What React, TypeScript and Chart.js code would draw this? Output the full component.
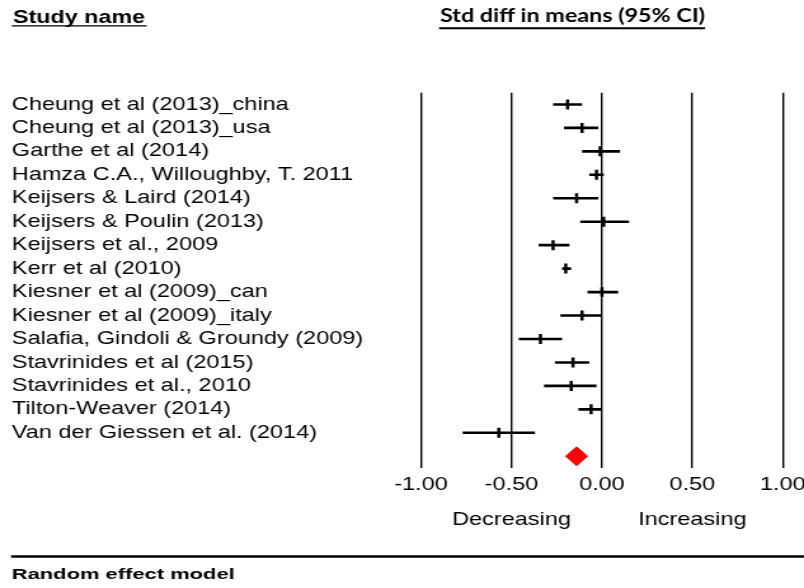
import React, { useEffect, useRef } from "react";
import { Chart, registerables } from "chart.js";

Chart.register(...registerables);

// ---------- data ----------
const STUDIES = [
  "Cheung et al (2013)_china",
  "Cheung et al (2013)_usa",
  "Garthe et al (2014)",
  "Hamza C.A., Willoughby, T. 2011",
  "Keijsers & Laird (2014)",
  "Keijsers & Poulin (2013)",
  "Keijsers et al., 2009",
  "Kerr et al (2010)",
  "Kiesner et al (2009)_can",
  "Kiesner et al (2009)_italy",
  "Salafia, Gindoli & Groundy (2009)",
  "Stavrinides et al (2015)",
  "Stavrinides et al., 2010",
  "Tilton-Weaver (2014)",
  "Van der Giessen et al. (2014)",
];
const EFFECT = [-0.19, -0.11, -0.01, -0.03, -0.14, 0.01, -0.27, -0.2, 0.0, -0.11, -0.34, -0.16, -0.17, -0.06, -0.57];
const LOWER = [-0.27, -0.21, -0.11, -0.07, -0.27, -0.12, -0.35, -0.22, -0.08, -0.23, -0.46, -0.26, -0.32, -0.13, -0.77];
const UPPER = [-0.11, -0.02, 0.1, 0.01, -0.02, 0.15, -0.18, -0.17, 0.09, 0.0, -0.22, -0.07, -0.03, 0.0, -0.37];
const POOLED = [-0.2, -0.14, -0.08]; // lower, estimate, upper
const X_TICKS = [-1, -0.5, 0, 0.5, 1];
const X_TICK_LABELS = ["-1.00", "-0.50", "0.00", "0.50", "1.00"];
const DIRECTION_LABELS = ["Decreasing", "Increasing"];
const DIRECTION_AT = [-0.5, 0.5];
const HEADER_LEFT = "Study name";
const HEADER_RIGHT = "Std diff in means (95% CI)";
const FOOTER = "Random effect model";

// ---------- layout / style ----------
const STRETCH = 1.27;
const DISPLAY_W = 804;
const DISPLAY_H = 588;
const CANVAS_W = Math.round(DISPLAY_W / STRETCH);
const CANVAS_H = DISPLAY_H;
const ARIAL = '"Liberation Sans", Arial, sans-serif';
const PAD_LEFT = 9.3;
const AREA_LEFT = 421 / STRETCH;
const AREA_RIGHT = 782.7 / STRETCH;
const AREA_TOP = 92.7;
const AREA_BOTTOM = 468;
const X_AXIS_H = 40;
const DIAMOND_HALF = 0.405;

function drawFitted(ctx: CanvasRenderingContext2D, text: string, x: number, y: number, font: string, width: number) {
  ctx.save();
  ctx.font = font;
  const w = ctx.measureText(text).width;
  ctx.translate(x, y);
  ctx.scale(width / w, 1);
  ctx.textAlign = "left";
  ctx.textBaseline = "alphabetic";
  ctx.fillText(text, 0, 0);
  ctx.restore();
}

const textPlugin = {
  id: "forestText",
  afterDraw(chart: any) {
    const ctx: CanvasRenderingContext2D = chart.ctx;
    const xs = chart.scales.x;
    ctx.save();
    ctx.fillStyle = "#000";
    ctx.strokeStyle = "#000";

    // headers
    drawFitted(ctx, HEADER_LEFT, 13 / STRETCH, 23.3, `bold 18.5px ${ARIAL}`, 132 / STRETCH);
    ctx.lineWidth = 1.4;
    ctx.beginPath();
    ctx.moveTo(11.7 / STRETCH, 25.9);
    ctx.lineTo(146.7 / STRETCH, 25.9);
    ctx.stroke();

    drawFitted(ctx, HEADER_RIGHT, 440 / STRETCH, 21.7, `bold 18.6px Lato, "Open Sans", sans-serif`, 265 / STRETCH);
    ctx.lineWidth = 2;
    ctx.beginPath();
    ctx.moveTo(439 / STRETCH, 28.3);
    ctx.lineTo(705 / STRETCH, 28.3);
    ctx.stroke();

    // direction labels
    ctx.font = `18.5px ${ARIAL}`;
    ctx.textAlign = "center";
    ctx.textBaseline = "alphabetic";
    DIRECTION_LABELS.forEach((t, i) => {
      ctx.fillText(t, xs.getPixelForValue(DIRECTION_AT[i]), 525);
    });

    // footer rule + label
    ctx.lineWidth = 2.4;
    ctx.beginPath();
    ctx.moveTo(11 / STRETCH, 556.5);
    ctx.lineTo(CANVAS_W, 556.5);
    ctx.stroke();
    drawFitted(ctx, FOOTER, 11.7 / STRETCH, 578.5, `bold 15.5px ${ARIAL}`, 223 / STRETCH);
    ctx.restore();
  },
};

export default function App() {
  const ref = useRef<HTMLCanvasElement | null>(null);

  useEffect(() => {
    if (!ref.current) return;
    const pooledRow = STUDIES.length;
    const ciSets = STUDIES.map((name, i) => ({
      label: name,
      data: [
        { x: LOWER[i], y: i },
        { x: UPPER[i], y: i },
      ],
      showLine: true,
      borderColor: "#000",
      borderWidth: 2.6,
      pointRadius: 0,
      pointHoverRadius: 0,
    }));
    const chart = new Chart(ref.current, {
      type: "scatter",
      data: {
        datasets: [
          ...ciSets,
          {
            label: "Std diff in means",
            data: EFFECT.map((x, i) => ({ x, y: i })),
            showLine: false,
            pointStyle: "line",
            pointRotation: 90,
            pointRadius: 5,
            pointHoverRadius: 5,
            pointBorderWidth: 2.5,
            pointBorderColor: "#000",
            pointBackgroundColor: "#000",
          },
          {
            label: "Random effect model",
            data: [
              { x: POOLED[0], y: pooledRow },
              { x: POOLED[1], y: pooledRow - DIAMOND_HALF },
              { x: POOLED[2], y: pooledRow },
              { x: POOLED[1], y: pooledRow + DIAMOND_HALF },
              { x: POOLED[0], y: pooledRow },
            ],
            showLine: true,
            fill: "shape",
            backgroundColor: "#ff0000",
            borderColor: "#ff0000",
            borderWidth: 1,
            pointRadius: 0,
            pointHoverRadius: 0,
          },
        ] as any,
      },
      options: {
        animation: false,
        responsive: false,
        events: [],
        layout: {
          padding: {
            left: PAD_LEFT,
            right: CANVAS_W - AREA_RIGHT,
            top: AREA_TOP,
            bottom: CANVAS_H - AREA_BOTTOM - X_AXIS_H,
          },
        },
        plugins: {
          legend: { display: false },
          tooltip: { enabled: false },
          title: { display: false },
        },
        scales: {
          x: {
            type: "linear",
            position: "bottom",
            min: -1,
            max: 1,
            afterBuildTicks: (s: any) => {
              s.ticks = X_TICKS.map((v) => ({ value: v }));
            },
            afterFit: (s: any) => {
              s.height = X_AXIS_H;
              s.paddingLeft = 0;
              s.paddingRight = 0;
            },
            ticks: {
              callback: (v: any) => X_TICK_LABELS[X_TICKS.indexOf(Number(v))] ?? "",
              color: "#000",
              font: { family: ARIAL, size: 18.5 },
              padding: 6,
              maxRotation: 0,
              minRotation: 0,
              autoSkip: false,
            },
            grid: { color: "#000", lineWidth: 1.4, drawTicks: false },
            border: { display: false },
          },
          y: {
            type: "linear",
            position: "left",
            min: -0.5,
            max: STUDIES.length + 0.5,
            reverse: true,
            afterBuildTicks: (s: any) => {
              s.ticks = STUDIES.map((_, i) => ({ value: i }));
            },
            afterFit: (s: any) => {
              s.width = AREA_LEFT - PAD_LEFT;
            },
            ticks: {
              callback: (v: any) => STUDIES[Number(v)] ?? "",
              crossAlign: "far",
              color: "#000",
              font: { family: ARIAL, size: 18.5 },
              autoSkip: false,
            },
            grid: { display: false },
            border: { display: false },
          },
        },
      } as any,
      plugins: [textPlugin],
    });
    return () => chart.destroy();
  }, []);

  return (
    <div style={{ position: "fixed", left: 0, top: 0, width: DISPLAY_W, height: DISPLAY_H, background: "#fff" }}>
      <canvas
        ref={ref}
        width={CANVAS_W}
        height={CANVAS_H}
        style={{ display: "block", width: `${DISPLAY_W}px`, height: `${DISPLAY_H}px` }}
      />
    </div>
  );
}
